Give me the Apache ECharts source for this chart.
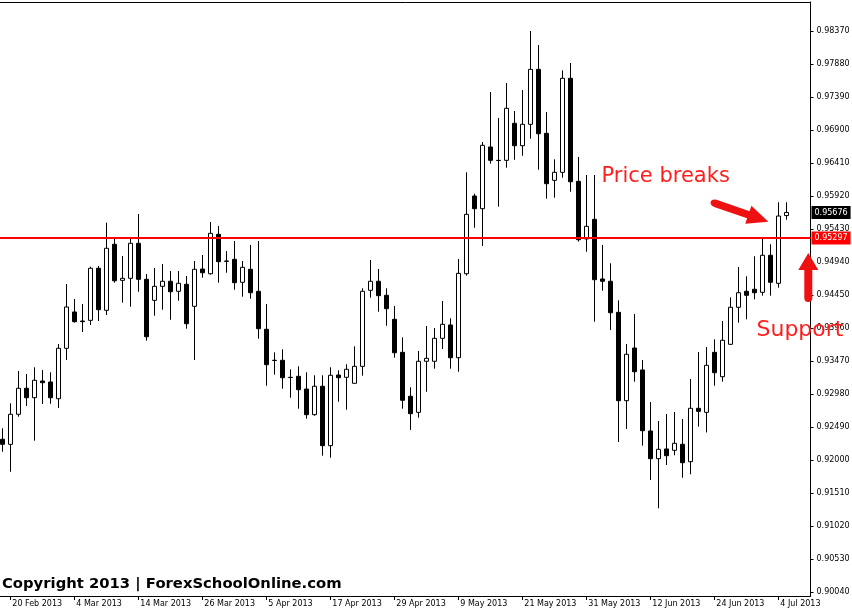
<!DOCTYPE html>
<html><head><meta charset="utf-8">
<script src="https://cdn.jsdelivr.net/npm/echarts@6/dist/echarts.min.js"></script>
<style>html,body{margin:0;padding:0;background:#fff}#c{width:852px;height:612px}</style>
</head><body><div id="c"></div>
<script>
const dates = [
'19 Feb 2013','20 Feb 2013','21 Feb 2013','22 Feb 2013','25 Feb 2013','26 Feb 2013','27 Feb 2013','28 Feb 2013','1 Mar 2013',
'4 Mar 2013','5 Mar 2013','6 Mar 2013','7 Mar 2013','8 Mar 2013','11 Mar 2013','12 Mar 2013','13 Mar 2013',
'14 Mar 2013','15 Mar 2013','18 Mar 2013','19 Mar 2013','20 Mar 2013','21 Mar 2013','22 Mar 2013','25 Mar 2013',
'26 Mar 2013','27 Mar 2013','28 Mar 2013','29 Mar 2013','1 Apr 2013','2 Apr 2013','3 Apr 2013','4 Apr 2013',
'5 Apr 2013','8 Apr 2013','9 Apr 2013','10 Apr 2013','11 Apr 2013','12 Apr 2013','15 Apr 2013','16 Apr 2013',
'17 Apr 2013','18 Apr 2013','19 Apr 2013','22 Apr 2013','23 Apr 2013','24 Apr 2013','25 Apr 2013','26 Apr 2013',
'29 Apr 2013','30 Apr 2013','1 May 2013','2 May 2013','3 May 2013','6 May 2013','7 May 2013','8 May 2013',
'9 May 2013','10 May 2013','13 May 2013','14 May 2013','15 May 2013','16 May 2013','17 May 2013','20 May 2013',
'21 May 2013','22 May 2013','23 May 2013','24 May 2013','27 May 2013','28 May 2013','29 May 2013','30 May 2013',
'31 May 2013','3 Jun 2013','4 Jun 2013','5 Jun 2013','6 Jun 2013','7 Jun 2013','10 Jun 2013','11 Jun 2013',
'12 Jun 2013','13 Jun 2013','14 Jun 2013','17 Jun 2013','18 Jun 2013','19 Jun 2013','20 Jun 2013','21 Jun 2013',
'24 Jun 2013','25 Jun 2013','26 Jun 2013','27 Jun 2013','28 Jun 2013','1 Jul 2013','2 Jul 2013','3 Jul 2013',
'4 Jul 2013','5 Jul 2013'];

const openP = [
0.92308,0.92233,0.92679,0.93065,0.92925,0.93173,0.93158,0.92910,0.93659,0.94198,
0.94064,0.94074,0.94847,0.94223,0.95203,0.94668,0.94698,0.95218,0.94683,0.94371,
0.94579,0.94654,0.94505,0.94609,0.94282,0.94836,0.94766,0.95351,0.94955,0.94980,
0.94639,0.94832,0.94505,0.93941,0.93481,0.93481,0.93228,0.93243,0.93054,0.92673,
0.93095,0.92213,0.93262,0.93228,0.93139,0.93391,0.94520,0.94654,0.94446,0.94089,
0.93599,0.92946,0.92708,0.93466,0.93466,0.93807,0.94005,0.93519,0.94766,0.95920,
0.95732,0.96648,0.96450,0.96450,0.97000,0.96667,0.96985,0.97801,0.96851,0.96153,
0.96272,0.97668,0.96138,0.95282,0.95574,0.94688,0.94654,0.94193,0.92881,0.93663,
0.93337,0.92431,0.92020,0.92164,0.92144,0.92233,0.91975,0.92768,0.92708,0.93599,
0.93237,0.93718,0.94268,0.94505,0.94535,0.94490,0.95040,0.94624,0.95630];

const closeP = [
0.92233,0.92679,0.93065,0.92925,0.93184,0.93148,0.92925,0.93659,0.94272,0.94054,
0.94054,0.94847,0.94232,0.95144,0.94662,0.94698,0.95218,0.94683,0.93831,0.94579,
0.94654,0.94499,0.94624,0.94024,0.94832,0.94781,0.95366,0.94945,0.94950,0.94633,
0.94861,0.94484,0.93950,0.93415,0.93478,0.93222,0.93224,0.93044,0.92673,0.93095,
0.92213,0.93258,0.93222,0.93347,0.93391,0.94505,0.94654,0.94440,0.94247,0.93593,
0.92887,0.92688,0.93466,0.93510,0.93807,0.94015,0.93519,0.94772,0.95648,0.95732,
0.96673,0.96450,0.96447,0.97222,0.96667,0.96985,0.97801,0.96845,0.96103,0.96272,
0.97668,0.96132,0.95271,0.95470,0.94677,0.94654,0.94187,0.92881,0.93570,0.93311,
0.92435,0.92020,0.92159,0.92064,0.92248,0.91960,0.92768,0.92723,0.93406,0.93296,
0.93778,0.94268,0.94484,0.94446,0.94484,0.95040,0.94639,0.95623,0.95676];

const lowP = [
0.92123,0.91826,0.92643,0.92802,0.92287,0.92832,0.92836,0.92772,0.93485,0.94040,
0.93901,0.94005,0.94064,0.94153,0.94633,0.94336,0.94276,0.94499,0.93772,0.94143,
0.94232,0.94083,0.94365,0.93950,0.93485,0.94707,0.94752,0.94633,0.94781,0.94529,
0.94425,0.94395,0.93801,0.93103,0.93267,0.93059,0.92925,0.92762,0.92613,0.92658,
0.92064,0.92034,0.92866,0.92747,0.93135,0.93252,0.94410,0.94202,0.93994,0.93519,
0.92762,0.92446,0.92628,0.93014,0.93356,0.93648,0.93356,0.93311,0.94737,0.95449,
0.95178,0.96400,0.95761,0.96340,0.96459,0.96518,0.96771,0.96311,0.95880,0.95895,
0.96192,0.95984,0.95242,0.95093,0.94054,0.94514,0.93930,0.92267,0.92461,0.93163,
0.92213,0.91703,0.91283,0.91926,0.92070,0.91737,0.91788,0.92495,0.92409,0.93103,
0.93163,0.93708,0.94039,0.94089,0.94386,0.94440,0.94440,0.94559,0.95568];

const highP = [
0.92471,0.92842,0.93322,0.93277,0.93377,0.93337,0.93302,0.93723,0.94613,0.94391,
0.94316,0.94870,0.94881,0.95524,0.95282,0.95029,0.95296,0.95653,0.94762,0.94851,
0.94910,0.94806,0.94806,0.94732,0.94955,0.95044,0.95534,0.95475,0.95103,0.95252,
0.94955,0.95193,0.95252,0.94316,0.93599,0.93644,0.93347,0.93391,0.93302,0.93258,
0.93258,0.93377,0.93332,0.93421,0.93688,0.94550,0.94970,0.94836,0.94550,0.94287,
0.93822,0.93080,0.93619,0.93990,0.93960,0.94361,0.94104,0.94985,0.96272,0.95954,
0.96722,0.97464,0.97078,0.97598,0.97182,0.97494,0.98370,0.98162,0.97167,0.96465,
0.97786,0.97895,0.96499,0.96232,0.96232,0.95193,0.94921,0.94371,0.93723,0.94168,
0.93485,0.92861,0.92579,0.92683,0.92713,0.92609,0.93203,0.93604,0.93678,0.93792,
0.94064,0.94416,0.94866,0.94728,0.95025,0.95296,0.95203,0.95827,0.95827];

const dateTickIdx = [1, 9, 17, 25, 33, 41, 49, 57, 65, 73, 81, 89, 97];
const priceTicks = [0.90040,0.90530,0.91020,0.91510,0.92000,0.92490,0.92980,0.93470,0.93960,
                    0.94450,0.94940,0.95430,0.95920,0.96410,0.96900,0.97390,0.97880,0.98370];
const supportLevel = 0.95297;
const lastPrice = 0.95676;
const copyrightText = 'Copyright 2013 | ForexSchoolOnline.com';

const candles = dates.map((d, i) => [i, openP[i], closeP[i], lowP[i], highP[i]]);

const FONT = 'DejaVu Sans';
const arrowPath = 'path://M10,0 L20,17 L14,17 L14,45 A4,4 0 0 1 6,45 L6,17 L0,17 Z';

const chart = echarts.init(document.getElementById('c'), null, {renderer: 'canvas'});
chart.setOption({
  animation: false,
  backgroundColor: '#ffffff',
  grid: {left: 0, right: 41.5, top: 2, bottom: 16, containLabel: false, outerBoundsMode: 'none'},
  xAxis: [{
    type: 'value', min: -0.2875, max: 101.025,
    axisLine: {show: true, onZero: false, lineStyle: {color: '#000', width: 1}},
    axisTick: {show: true, customValues: dateTickIdx, length: 4, lineStyle: {color: '#000'}},
    axisLabel: {show: true, customValues: dateTickIdx, formatter: v => dates[Math.round(v)],
      align: 'left', margin: 4, padding: [0, 0, 0, 2], fontFamily: FONT, fontSize: 8, color: '#000'},
    splitLine: {show: false}
  }, {
    type: 'value', position: 'top', min: -0.2875, max: 101.025,
    axisLine: {show: true, onZero: false, lineStyle: {color: '#000', width: 1}},
    axisTick: {show: false}, axisLabel: {show: false}, splitLine: {show: false}
  }],
  yAxis: {
    type: 'value', position: 'right', min: 0.899806, max: 0.98801,
    axisLine: {show: true, onZero: false, lineStyle: {color: '#000', width: 1}},
    axisTick: {show: true, customValues: priceTicks, length: 3, lineStyle: {color: '#000'}},
    axisLabel: {show: true, customValues: priceTicks, formatter: v => v.toFixed(5),
      margin: 6, fontFamily: FONT, fontSize: 8, color: '#000'},
    splitLine: {show: false}
  },
  series: [{
    type: 'candlestick',
    xAxisIndex: 0,
    data: candles,
    barWidth: 4,
    silent: true,
    itemStyle: {color: '#ffffff', color0: '#000000', borderColor: '#000000', borderColor0: '#000000',
      borderColorDoji: '#000000', borderWidth: 1},
    emphasis: {disabled: true},
    markLine: {
      silent: true, symbol: ['none', 'none'], animation: false, precision: 5,
      data: [
        {yAxis: supportLevel, lineStyle: {color: '#ff0000', width: 2, type: 'solid'},
         label: {show: true, position: 'end', distance: 1, formatter: supportLevel.toFixed(5),
           backgroundColor: '#ff0000', color: '#ffffff', padding: [3, 3, 2, 3], fontFamily: FONT, fontSize: 8}},
        {yAxis: lastPrice, lineStyle: {color: 'rgba(0,0,0,0)', width: 1, type: 'solid'},
         label: {show: true, position: 'end', distance: 1, formatter: lastPrice.toFixed(5),
           backgroundColor: '#000000', color: '#ffffff', padding: [3, 3, 2, 3], fontFamily: FONT, fontSize: 8}}
      ]
    },
    markPoint: {
      silent: true, animation: false,
      data: [
        {coord: [74.84, 0.96202], symbol: 'rect', symbolSize: 1, itemStyle: {color: 'rgba(0,0,0,0)'},
         label: {show: true, position: 'right', distance: 0, formatter: 'Price breaks',
           color: '#ff1e1e', fontSize: 21, fontFamily: FONT}},
        {coord: [94.21, 0.93930], symbol: 'rect', symbolSize: 1, itemStyle: {color: 'rgba(0,0,0,0)'},
         label: {show: true, position: 'right', distance: 0, formatter: 'Support',
           color: '#ff1e1e', fontSize: 22, fontFamily: FONT}},
        {coord: [92.15, 0.95687], symbol: arrowPath, symbolSize: [19, 61], symbolRotate: -109,
         itemStyle: {color: '#ee1111'}, label: {show: false}},
        {coord: [100.75, 0.94710], symbol: arrowPath, symbolSize: [20, 49], symbolRotate: 0,
         itemStyle: {color: '#ee1111'}, label: {show: false}}
      ]
    }
  }],
  graphic: [{
    type: 'text', left: 2, top: 577, silent: true, z: 100,
    style: {text: copyrightText, font: 'bold 14.8px "DejaVu Sans"', fill: '#000'}
  }]
});
</script>
</body></html>
